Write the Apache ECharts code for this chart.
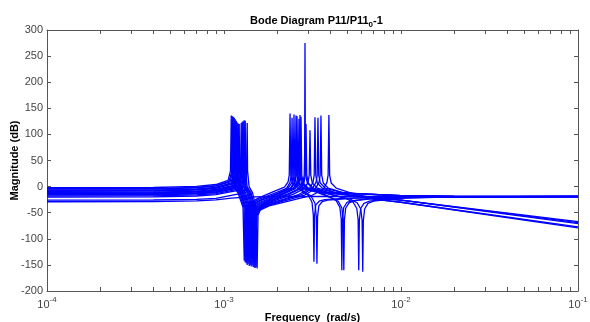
<!DOCTYPE html>
<html>
<head>
<meta charset="utf-8">
<script src="https://cdn.jsdelivr.net/npm/echarts@6/dist/echarts.min.js"></script>
<style>
html,body{margin:0;padding:0;background:#fff;}
#chart{width:590px;height:322px;}
</style>
</head>
<body>
<div id="chart"></div>
<script>
//刻度
var freqTicks = [1e-4, 1e-3, 1e-2, 1e-1];
var magTicks = [-200, -150, -100, -50, 0, 50, 100, 150, 200, 250, 300];

//各条曲线 [频率(rad/s), 幅值(dB)]
var c1 = [[1e-4,-2],[4e-4,-1.7],[7e-4,0.5],[9e-4,4],[1.055e-3,12],[1.088e-3,30],[1.099e-3,136],[1.105e-3,30],[1.127e-3,0],[1.2e-3,-12],[1.281e-3,-40],[1.301e-3,-142],[1.317e-3,-50],[1.366e-3,-34],[1.561e-3,-22],
  [1.889e-3,-10],[2.196e-3,-1],[2.302e-3,9],[2.337e-3,22],[2.361e-3,140],[2.385e-3,22],[2.432e-3,7],[2.597e-3,-3],[2.8e-3,-10],[3.0e-3,-17],[3.142e-3,-30],[3.197e-3,-55],[3.223e-3,-144],[3.249e-3,-55],[3.303e-3,-35],[3.449e-3,-28],[3.706e-3,-25],[5e-3,-22],[1e-2,-19.5],[1e-1,-19.3]];
var c2 = [[1e-4,-4],[4e-4,-3.7],[7e-4,-1.5],[9e-4,2],[1.069e-3,10],[1.103e-3,28],[1.114e-3,135],[1.120e-3,30],[1.142e-3,0],[1.215e-3,-12],[1.298e-3,-40],[1.318e-3,-145],[1.334e-3,-50],[1.384e-3,-35],[1.582e-3,-24],
  [1.989e-3,-11],[2.312e-3,-2],[2.424e-3,8],[2.461e-3,22],[2.486e-3,138],[2.511e-3,22],[2.561e-3,7],[2.735e-3,-3],[3.356e-3,-11],[3.937e-3,-20],[4.308e-3,-27],[4.516e-3,-40],[4.595e-3,-62],[4.632e-3,-160],[4.669e-3,-62],[4.748e-3,-40],[4.956e-3,-30],[5.327e-3,-27],[7e-3,-22],[1.5e-2,-19.4],[1e-1,-19]];
var c3 = [[1e-4,-5],[4e-4,-4.7],[7e-4,-2.5],[9e-4,1],[1.083e-3,9],[1.117e-3,28],[1.128e-3,134],[1.134e-3,30],[1.156e-3,0],[1.233e-3,-12],[1.315e-3,-40],[1.335e-3,-147],[1.351e-3,-51],[1.402e-3,-37],[1.602e-3,-26],
  [2.042e-3,-12],[2.373e-3,-3],[2.488e-3,8],[2.526e-3,22],[2.552e-3,136],[2.578e-3,22],[2.629e-3,7],[2.807e-3,-3],[3.445e-3,-11],[6e-3,-14],[1e-2,-17.5],[2e-2,-19],[1e-1,-19]];
var c4 = [[1e-4,-7],[4e-4,-6.7],[7e-4,-4.5],[9e-4,-1.5],[1.097e-3,7],[1.132e-3,26],[1.143e-3,132],[1.149e-3,30],[1.172e-3,0],[1.243e-3,-12],[1.320e-3,-40],[1.340e-3,-144],[1.356e-3,-52],[1.407e-3,-38],[1.608e-3,-27],
  [2.068e-3,-13],[2.404e-3,-3],[2.520e-3,8],[2.559e-3,22],[2.585e-3,135],[2.611e-3,22],[2.663e-3,7],[2.844e-3,-3],[3.490e-3,-11],[4.040e-3,-21],[4.420e-3,-28],[4.634e-3,-41],[4.715e-3,-63],[4.753e-3,-160],[4.791e-3,-63],[4.872e-3,-41],[5.086e-3,-31],[5.466e-3,-27],[7.5e-3,-22],[1.5e-2,-19.5],[1e-1,-19.2]];
var c5 = [[1e-4,-8],[4e-4,-7.7],[7e-4,-5.5],[9e-4,-2.5],[1.112e-3,6],[1.146e-3,25],[1.158e-3,129],[1.164e-3,30],[1.187e-3,0],[1.258e-3,-12],[1.332e-3,-40],[1.352e-3,-150],[1.368e-3,-52],[1.420e-3,-39],[1.622e-3,-29],
  [2.150e-3,-13],[2.500e-3,-3],[2.621e-3,8],[2.661e-3,22],[2.688e-3,137],[2.715e-3,22],[2.769e-3,7],[2.957e-3,-3],[3.629e-3,-11],[4.906e-3,-23],[5.368e-3,-30],[5.628e-3,-42],[5.726e-3,-64],[5.772e-3,-160],[5.818e-3,-64],[5.916e-3,-42],[6.176e-3,-32],[6.638e-3,-28],[9e-3,-22],[1.8e-2,-19.5],[1e-1,-18.8]];
var c6 = [[1e-4,-9],[4e-4,-8.7],[7e-4,-6.5],[9e-4,-3.5],[1.126e-3,5],[1.161e-3,24],[1.173e-3,126],[1.179e-3,30],[1.202e-3,0],[1.275e-3,-12],[1.349e-3,-40],[1.370e-3,-148],[1.386e-3,-53],[1.439e-3,-40],[1.644e-3,-30],
  [2.178e-3,-14],[2.532e-3,-4],[2.655e-3,8],[2.696e-3,22],[2.723e-3,134],[2.750e-3,22],[2.805e-3,7],[2.995e-3,-3],[3.676e-3,-12],[7e-3,-21],[1e-2,-26],[1e-1,-67]];
var c7 = [[1e-4,-11],[4e-4,-10.7],[7e-4,-8.5],[9e-4,-5.5],[1.140e-3,3],[1.176e-3,22],[1.188e-3,123],[1.194e-3,30],[1.218e-3,0],[1.291e-3,-12],[1.367e-3,-40],[1.388e-3,-152],[1.405e-3,-54],[1.457e-3,-41],[1.666e-3,-31],
  [2.294e-3,-14],[2.667e-3,-4],[2.796e-3,8],[2.839e-3,22],[2.854e-3,60],[2.868e-3,275],[2.882e-3,60],[2.897e-3,22],[2.954e-3,7],[3.155e-3,-3],[3.872e-3,-11],[6e-3,-14],[1e-2,-17.5],[2e-2,-19],[1e-1,-19.4]];
var c8 = [[1e-4,-12],[4e-4,-11.7],[7e-4,-9.5],[9e-4,-7],[1.156e-3,2],[1.192e-3,21],[1.204e-3,121],[1.210e-3,30],[1.234e-3,0],[1.308e-3,-12],[1.385e-3,-40],[1.406e-3,-150],[1.423e-3,-55],[1.476e-3,-42],[1.687e-3,-32],
  [2.325e-3,-15],[2.703e-3,-4],[2.833e-3,8],[2.877e-3,22],[2.906e-3,120],[2.935e-3,22],[2.993e-3,7],[3.197e-3,-3],[3.923e-3,-12],[7e-3,-21],[1e-2,-26],[1e-1,-69]];
var c9 = [[1e-4,-13],[4e-4,-12.7],[7e-4,-10.5],[9e-4,-8],[1.170e-3,1],[1.207e-3,20],[1.219e-3,120],[1.225e-3,30],[1.249e-3,0],[1.324e-3,-12],[1.403e-3,-40],[1.424e-3,-153],[1.441e-3,-56],[1.495e-3,-43],[1.709e-3,-33],
  [2.449e-3,-15],[2.847e-3,-4],[2.984e-3,8],[3.030e-3,22],[3.061e-3,108],[3.092e-3,22],[3.153e-3,7],[3.367e-3,-3],[4.132e-3,-11],[6e-3,-14],[1e-2,-17.5],[2e-2,-19],[1e-1,-18.7]];
var c10 = [[1e-4,-14],[4e-4,-13.7],[7e-4,-12],[9e-4,-9.5],[1.201e-3,0],[1.238e-3,19],[1.251e-3,122],[1.257e-3,30],[1.282e-3,0],[1.350e-3,-12],[1.421e-3,-40],[1.443e-3,-151],[1.460e-3,-57],[1.515e-3,-44],[1.732e-3,-34],
  [2.613e-3,-16],[3.037e-3,-4],[3.184e-3,8],[3.233e-3,22],[3.266e-3,133],[3.299e-3,22],[3.364e-3,7],[3.593e-3,-3],[4.409e-3,-13],[7e-3,-24],[1e-2,-30],[1e-1,-77]];
var c11 = [[1e-4,-15],[4e-4,-14.7],[7e-4,-13],[9e-4,-10.5],[1.217e-3,-1],[1.255e-3,18],[1.268e-3,124],[1.274e-3,30],[1.300e-3,0],[1.368e-3,-12],[1.440e-3,-40],[1.462e-3,-154],[1.480e-3,-57],[1.535e-3,-44],[1.754e-3,-35],
  [2.717e-3,-16],[3.158e-3,-4],[3.311e-3,8],[3.362e-3,22],[3.396e-3,132],[3.430e-3,22],[3.498e-3,7],[3.736e-3,-3],[4.585e-3,-11],[6e-3,-14],[1e-2,-17.5],[2e-2,-19],[1e-1,-19.2]];
var c12 = [[1e-4,-16],[4e-4,-15.7],[7e-4,-14],[9e-4,-11.5],[1.233e-3,-2],[1.271e-3,17],[1.284e-3,125],[1.290e-3,30],[1.316e-3,0],[1.386e-3,-12],[1.459e-3,-40],[1.481e-3,-155],[1.499e-3,-58],[1.555e-3,-45],[1.777e-3,-36],
  [2.824e-3,-17],[3.283e-3,-4],[3.442e-3,8],[3.495e-3,22],[3.530e-3,136],[3.565e-3,22],[3.636e-3,7],[3.883e-3,-3],[4.766e-3,-12],[7e-3,-21],[1e-2,-26],[1e-1,-71]];
var c13 = [[1e-4,-18],[4e-4,-17.7],[7e-4,-16],[9e-4,-13.5],[1.249e-3,-4],[1.288e-3,16],[1.301e-3,127],[1.308e-3,30],[1.334e-3,0],[1.405e-3,-12],[1.478e-3,-40],[1.500e-3,-156],[1.518e-3,-58],[1.575e-3,-46],[1.800e-3,-37],
  [3.131e-3,-17],[3.640e-3,-5],[3.816e-3,8],[3.875e-3,22],[3.914e-3,137],[3.953e-3,22],[4.031e-3,7],[4.305e-3,-3],[5.284e-3,-13],[7e-3,-24],[1e-2,-30],[1e-1,-79]];
var c14 = [[1e-4,-20],[4e-4,-19.7],[7e-4,-18],[9e-4,-15.5],[1.265e-3,-6],[1.305e-3,15],[1.318e-3,126],[1.325e-3,30],[1.351e-3,0],[1.422e-3,-12],[1.496e-3,-40],[1.519e-3,-154],[1.537e-3,-52],[1.595e-3,-38],[1.823e-3,-25],
  [1.938e-3,-17],[2.253e-3,-4],[2.362e-3,8],[2.399e-3,22],[2.423e-3,132],[2.447e-3,22],[2.496e-3,7],[2.665e-3,-3],[2.85e-3,-10],[3.1e-3,-18],[3.266e-3,-32],[3.323e-3,-58],[3.350e-3,-148],[3.377e-3,-58],[3.434e-3,-37],[3.585e-3,-29],[3.853e-3,-26],[5.5e-3,-22],[1.2e-2,-19.5],[1e-1,-19]];
var c15 = [[1e-4,-26],[4e-4,-25.7],[7e-4,-24.5],[9e-4,-22.5],[1.298e-3,-12],[1.338e-3,10],[1.352e-3,122],[1.359e-3,30],[1.386e-3,0],[1.450e-3,-12],[1.516e-3,-40],[1.539e-3,-157],[1.557e-3,-55],[1.616e-3,-42],[1.847e-3,-29],
  [2.122e-3,-15],[2.467e-3,-3],[2.587e-3,8],[2.626e-3,22],[2.653e-3,130],[2.680e-3,22],[2.733e-3,7],[2.918e-3,-3],[3.582e-3,-11],[5.167e-3,-24],[5.653e-3,-31],[5.927e-3,-43],[6.030e-3,-65],[6.079e-3,-163],[6.128e-3,-65],[6.231e-3,-43],[6.505e-3,-32],[6.991e-3,-28],[9.5e-3,-22.5],[2e-2,-19.5],[1e-1,-19]];
var c16 = [[1e-4,-29],[4e-4,-28.8],[7e-4,-27.5],[9e-4,-25.5],[1.1e-3,-22],[1.4e-3,-19.5],[3e-3,-19],[1e-1,-19]];

var curves = [c1, c2, c3, c4, c5, c6, c7, c8, c9, c10, c11, c12, c13, c14, c15, c16];

//对数轴小刻度位置(log10)
var logTickPos = [];
freqTicks.forEach(function (d, i) {
    for (var k = 1; k <= 9; k++) {
        if (i < freqTicks.length - 1 || k === 1) logTickPos.push(Math.log10(k * d));
    }
});

var axisGray = '#555';
var font = '"Liberation Sans", Arial, sans-serif';

var chart = echarts.init(document.getElementById('chart'));
chart.setOption({
    animation: false,
    backgroundColor: '#fff',
    title: {
        text: '{t|Bode Diagram P11/P11}{s|0}{t|-1}',
        left: 245,
        top: 8,
        textStyle: {
            rich: {
                t: {fontFamily: font, fontSize: 11, fontWeight: 'bold', color: '#000'},
                s: {fontFamily: font, fontSize: 8, fontWeight: 'bold', color: '#000', padding: [8, 0, 0, 0]}
            }
        }
    },
    grid: {left: 47, right: 12, top: 30, bottom: 31, containLabel: false, outerBoundsMode: 'none'},
    xAxis: [
        {
            type: 'log',
            logBase: 10,
            min: 1e-4,
            max: 1e-1,
            position: 'bottom',
            axisLine: {show: true, onZero: false, lineStyle: {color: axisGray}},
            axisTick: {show: false},
            splitLine: {show: false},
            axisLabel: {
                margin: 5,
                formatter: function (v) {
                    return '{b|10}{e|' + Math.round(Math.log10(v)) + '}';
                },
                rich: {
                    b: {fontFamily: font, fontSize: 11, color: '#444'},
                    e: {fontFamily: font, fontSize: 8, color: '#444', padding: [0, 0, 10, 0]}
                }
            },
            name: 'Frequency  (rad/s)',
            nameLocation: 'middle',
            nameGap: 21,
            nameMoveOverlap: false,
            nameTextStyle: {fontFamily: font, fontSize: 11, fontWeight: 'bold', color: '#000'}
        },
        {
            type: 'value', min: -4, max: -1, position: 'bottom',
            axisLine: {show: false, onZero: false},
            axisLabel: {show: false},
            splitLine: {show: false},
            axisTick: {show: true, inside: true, length: 4, customValues: logTickPos, lineStyle: {color: axisGray}}
        },
        {
            type: 'value', min: -4, max: -1, position: 'top',
            axisLine: {show: true, onZero: false, lineStyle: {color: axisGray}},
            axisLabel: {show: false},
            splitLine: {show: false},
            axisTick: {show: true, inside: true, length: 4, customValues: logTickPos, lineStyle: {color: axisGray}}
        }
    ],
    yAxis: [
        {
            type: 'value',
            min: -200,
            max: 300,
            interval: 50,
            position: 'left',
            axisLine: {show: true, onZero: false, lineStyle: {color: axisGray}},
            axisTick: {show: true, inside: true, length: 4, lineStyle: {color: axisGray}},
            splitLine: {show: false},
            axisLabel: {margin: 4, fontFamily: font, fontSize: 11, color: '#444', customValues: magTicks},
            name: 'Magnitude (dB)',
            nameLocation: 'middle',
            nameGap: 27,
            nameMoveOverlap: false,
            nameTextStyle: {fontFamily: font, fontSize: 11, fontWeight: 'bold', color: '#000'}
        },
        {
            type: 'value',
            min: -200,
            max: 300,
            interval: 50,
            position: 'right',
            axisLine: {show: true, onZero: false, lineStyle: {color: axisGray}},
            axisTick: {show: true, inside: true, length: 4, lineStyle: {color: axisGray}},
            splitLine: {show: false},
            axisLabel: {show: false}
        }
    ],
    series: curves.map(function (c) {
        return {
            type: 'line',
            xAxisIndex: 0,
            yAxisIndex: 0,
            data: c,
            showSymbol: false,
            symbol: 'none',
            silent: true,
            lineStyle: {width: 1.3, color: '#0000ff'}
        };
    })
});
</script>
</body>
</html>
